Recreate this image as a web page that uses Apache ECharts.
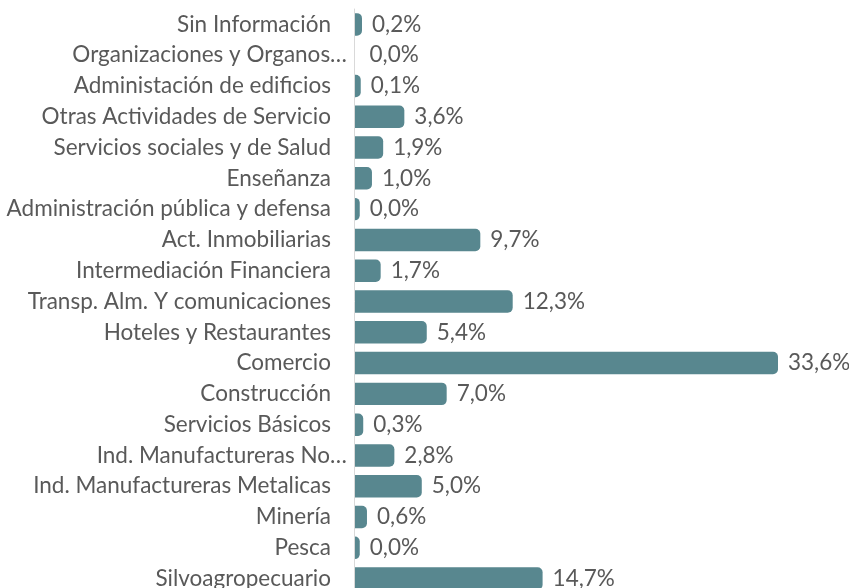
<!DOCTYPE html>
<html>
<head>
<meta charset="utf-8">
<script src="https://cdn.jsdelivr.net/npm/echarts@6/dist/echarts.min.js"></script>
<style>
  html, body { margin: 0; padding: 0; background: #fff; overflow: hidden; }
  /* a bit taller than the window: the last bar is cut at the bottom edge */
  #chart { width: 849px; height: 594px; }
</style>
</head>
<body>
<div id="chart"></div>
<script>
// categories top to bottom, as in the picture
const sectors = [
  "Sin Información",
  "Organizaciones y Organos…",
  "Administación de edificios",
  "Otras Actividades de Servicio",
  "Servicios sociales y de Salud",
  "Enseñanza",
  "Administración pública y defensa",
  "Act. Inmobiliarias",
  "Intermediación Financiera",
  "Transp. Alm. Y comunicaciones",
  "Hoteles y Restaurantes",
  "Comercio",
  "Construcción",
  "Servicios Básicos",
  "Ind. Manufactureras No…",
  "Ind. Manufactureras Metalicas",
  "Minería",
  "Pesca",
  "Silvoagropecuario"
];
// share in %, tiny non-zero ones show as 0,0%
const shares = [0.2, 0, 0.1, 3.6, 1.9, 1.0, 0.02, 9.7, 1.7, 12.3, 5.4, 33.6, 7.0, 0.3, 2.8, 5.0, 0.6, 0.02, 14.7];

const barColor = "#58878f";
const textColor = "#595959";
const font = "Lato";
const fontSize = 22.5;
const capPx = 5.5; // rounded end sticks out past the value

const chart = echarts.init(document.getElementById("chart"));

const fmt = v => v.toFixed(1).replace(".", ",") + "%";

function renderBar(params, api) {
  const idx = api.value(0);
  const v = api.value(1);
  const start = api.coord([0, idx]);
  const end = api.coord([v, idx]);
  const h = api.size([0, 1])[1] * 0.73;
  const x0 = start[0] + 1;
  const w = end[0] - x0 + capPx;
  return {
    type: "rect",
    shape: { x: x0, y: start[1] - h / 2, width: w, height: h, r: [0, 5, 5, 0] },
    style: { fill: v === 0 ? "transparent" : barColor },
    textContent: {
      style: { text: fmt(v), fill: textColor, fontFamily: font, fontSize: fontSize }
    },
    textConfig: { position: "right", distance: 10 }
  };
}

chart.setOption({
  animation: false,
  grid: { left: 354, right: 21.7, top: 9, bottom: 0 },
  xAxis: {
    type: "value",
    min: 0,
    max: 38,
    show: false
  },
  yAxis: {
    type: "category",
    data: sectors,
    inverse: true,
    axisTick: { show: false },
    axisLine: { onZero: false, lineStyle: { color: "#d9d9d9", width: 1 } },
    axisLabel: {
      margin: 7,
      formatter: v => (v.endsWith("…") ? "{e|" + v + "}" : "{n|" + v + "}"),
      rich: {
        n: { color: textColor, fontFamily: font, fontSize: fontSize, padding: [0, 16, 0, 0] },
        e: { color: textColor, fontFamily: font, fontSize: fontSize }
      }
    }
  },
  series: [
    {
      type: "custom",
      renderItem: renderBar,
      encode: { x: 1, y: 0 },
      data: shares.map((v, i) => [i, v])
    }
  ]
});
</script>
</body>
</html>
